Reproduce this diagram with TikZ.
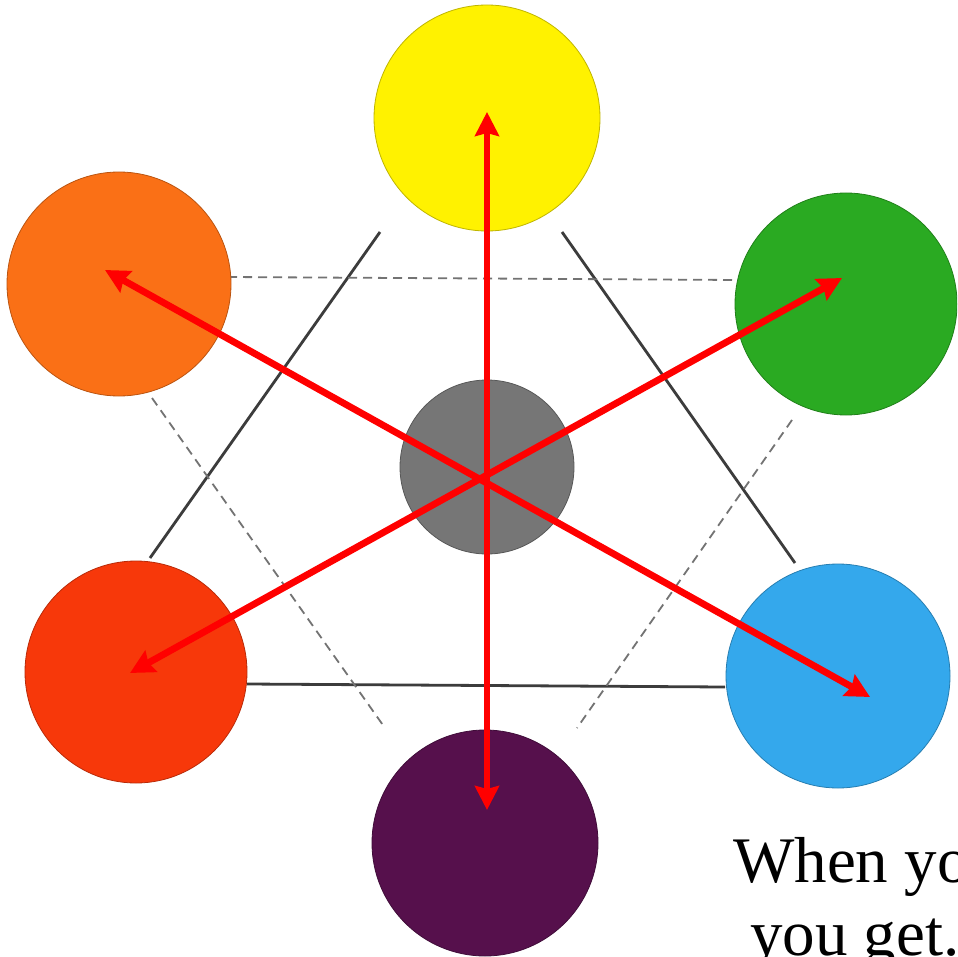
\documentclass[tikz,border=0pt]{standalone}
\usepackage{fontspec}
\setmainfont{Liberation Serif}
\usetikzlibrary{arrows.meta}
\definecolor{cYellow}{RGB}{255,242,0}
\definecolor{cOrange}{RGB}{250,112,22}
\definecolor{cGreen}{RGB}{42,170,34}
\definecolor{cRed}{RGB}{247,56,10}
\definecolor{cBlue}{RGB}{52,168,236}
\definecolor{cPurple}{RGB}{86,16,76}
\definecolor{cGray}{RGB}{118,118,118}
\definecolor{cLine}{RGB}{60,60,60}
\definecolor{cDash}{RGB}{115,115,115}
\begin{document}
\begin{tikzpicture}[x=1pt,y=-1pt,
  dot/.style={circle,inner sep=0pt,draw=#1!75!black,line width=0.8pt,fill=#1},
  solidedge/.style={draw=cLine,line width=2.8pt},
  dashedge/.style={draw=cDash,line width=1.8pt,dash pattern=on 9pt off 6pt},
  redarrow/.style={draw=red,line width=6.8pt,{Stealth[length=24pt,width=24pt,inset=3pt]}-{Stealth[length=24pt,width=24pt,inset=3pt]}},
  caption/.style={font=\fontsize{65}{70}\selectfont,inner sep=0pt,anchor=base west}]
\useasboundingbox (0,0) rectangle (957,957);
\clip (0,0) rectangle (957,957);
\fill[white] (0,0) rectangle (957,957);
% solid triangle edges
\coordinate (s1a) at (380,232); \coordinate (s1b) at (150,558);
\coordinate (s2a) at (562,232); \coordinate (s2b) at (795,563);
\coordinate (s3a) at (247,684); \coordinate (s3b) at (725,687);
\draw[solidedge] (s1a) -- (s1b);
\draw[solidedge] (s2a) -- (s2b);
\draw[solidedge] (s3a) -- (s3b);
% dashed triangle edges
\coordinate (d1a) at (228,277); \coordinate (d1b) at (738,280);
\coordinate (d2a) at (152,398); \coordinate (d2b) at (385,728);
\coordinate (d3a) at (792,420); \coordinate (d3b) at (577,728);
\draw[dashedge] (d1a) -- (d1b);
\draw[dashedge] (d2a) -- (d2b);
\draw[dashedge] (d3a) -- (d3b);
% circles
\node[dot=cYellow,minimum size=226pt] (yellow) at (487,118) {};
\node[dot=cOrange,minimum size=224pt] (orange) at (119,284) {};
\node[dot=cGreen,minimum size=222pt] (green) at (846,304) {};
\node[dot=cRed,minimum size=222pt] (redc) at (136,672) {};
\node[dot=cBlue,minimum size=224pt] (blue) at (838,676) {};
\node[dot=cPurple,minimum size=226pt] (purple) at (485,843) {};
\node[dot=cGray,minimum size=174pt] (gray) at (487,467) {};
% arrow ends
\coordinate (tY) at (487,112); \coordinate (tP) at (487,810);
\coordinate (tO) at (105,270); \coordinate (tB) at (870,697);
\coordinate (tG) at (842,278); \coordinate (tR) at (130,673);
\draw[redarrow] (tY) -- (tP);
\draw[redarrow] (tO) -- (tB);
\draw[redarrow] (tG) -- (tR);
% caption
\node[caption] (line1) at (733,882) {When yo};
\node[caption] (line2) at (750,955) {you get.};
\end{tikzpicture}
\end{document}
